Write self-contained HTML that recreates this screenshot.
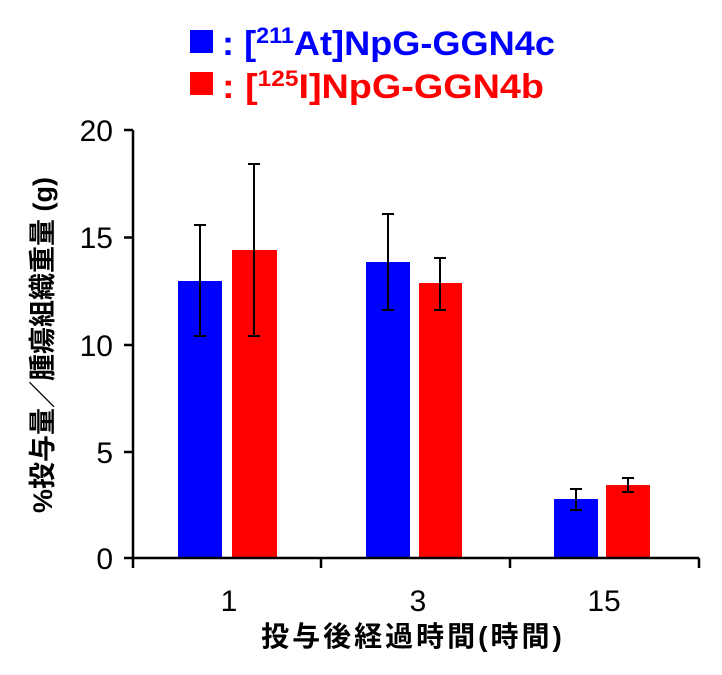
<!DOCTYPE html>
<html><head><meta charset="utf-8"><style>body{margin:0;background:#fff}</style></head><body>
<svg width="722" height="670" xmlns="http://www.w3.org/2000/svg" font-family="Liberation Sans, Noto Sans CJK JP, sans-serif">
<rect x="190" y="30" width="23" height="23" fill="#0000ff"/>
<text x="222" y="55" font-size="34" font-weight="bold" fill="#0000ff" textLength="333" lengthAdjust="spacingAndGlyphs">: [<tspan font-size="22" dy="-12">211</tspan><tspan dy="12">At]NpG-GGN4c</tspan></text>
<rect x="190" y="72" width="23" height="23" fill="#ff0000"/>
<text x="222" y="98" font-size="34" font-weight="bold" fill="#ff0000" textLength="322" lengthAdjust="spacingAndGlyphs">: [<tspan font-size="22" dy="-12">125</tspan><tspan dy="12">I]NpG-GGN4b</tspan></text>
<g fill="#0000ff">
<rect x="178" y="281" width="44" height="277"/><rect x="366" y="262" width="44" height="296"/><rect x="554" y="499" width="44" height="59"/></g>
<g fill="#ff0000">
<rect x="232" y="250" width="45" height="308"/><rect x="419" y="283" width="43" height="275"/><rect x="606" y="485" width="44" height="73"/></g>
<g stroke="#000" stroke-width="2" fill="none">
<path d="M200 336V225M194 336h12M194 225h12"/>
<path d="M254 336V164M248 336h12M248 164h12"/>
<path d="M388 310V214M382 310h12M382 214h12"/>
<path d="M440 310V258M434 310h12M434 258h12"/>
<path d="M576 510V489M570 510h12M570 489h12"/>
<path d="M628 492V478M622 492h12M622 478h12"/>
<path d="M133 130V558M124 130h9M124 237.5h9M124 345h9M124 452h9M124 558H699M133 558v10M321 558v10M510 558v10M699 558v10" stroke-width="2.5"/>
</g>
<g font-size="30" text-anchor="end" fill="#000">
<text x="113" y="141">20</text><text x="113" y="248">15</text><text x="113" y="356">10</text><text x="113" y="463">5</text><text x="113" y="569">0</text></g>
<g font-size="30" text-anchor="middle"><text x="229" y="611">1</text><text x="418" y="611">3</text><text x="604" y="611">15</text></g>
<text x="413" y="646" font-size="28" font-weight="bold" text-anchor="middle" letter-spacing="3">投与後経過時間(時間)</text>
<text transform="translate(52,345) rotate(-90)" font-size="27" font-weight="bold" text-anchor="middle">%投与量／腫瘍組織重量 (g)</text>
</svg>
</body></html>
